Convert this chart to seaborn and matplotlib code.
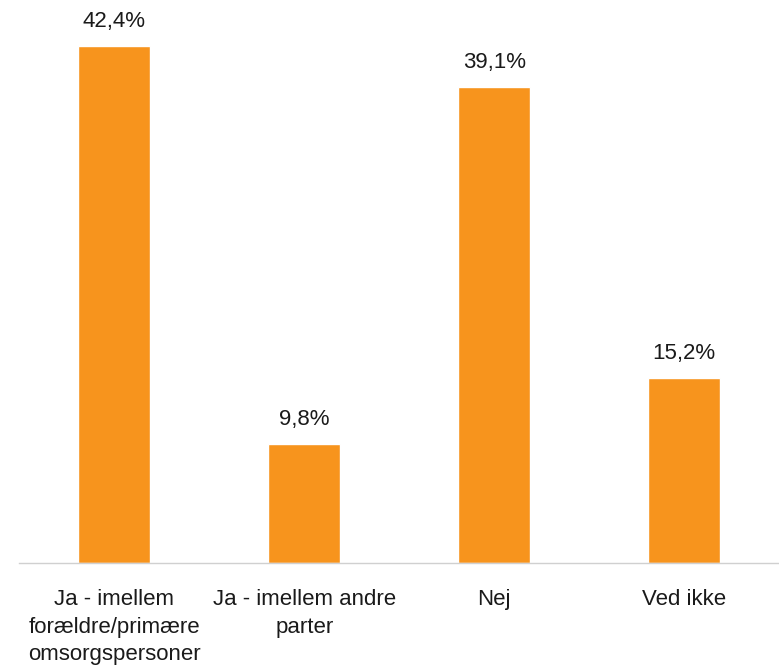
import matplotlib
matplotlib.use("Agg")
import matplotlib.pyplot as plt
import seaborn as sns
import pandas as pd

# Data
categories = ["Ja - imellem\nforældre/primære\nomsorgspersoner",
              "Ja - imellem andre\nparter",
              "Nej",
              "Ved ikke"]
values = [42.4, 9.8, 39.1, 15.2]
value_labels = ["42,4%", "9,8%", "39,1%", "15,2%"]

sns.set_style("white")
plt.rcParams['font.family'] = ['Liberation Sans', 'DejaVu Sans']

df = pd.DataFrame({"kategori": categories, "andel": values})

fig = plt.figure(figsize=(7.79, 6.66), dpi=100)
ax = fig.add_axes([0.025, 103 / 666, 0.975, 563 / 666])

sns.barplot(data=df, x="kategori", y="andel", color="#F7941D",
            saturation=1, width=0.38, ax=ax)

ax.set_ylim(0, 46.2)
ax.set_xlim(-0.5, 3.5)

for i, (v, lab) in enumerate(zip(values, value_labels)):
    ax.text(i, v + 1.15, lab, ha="center", va="bottom", fontsize=16, color="#1a1a1a")

ax.set_xlabel("")
ax.set_ylabel("")
ax.set_yticks([])
ax.tick_params(axis="x", length=0, pad=19, labelsize=16, labelcolor="#1a1a1a")
for lab in ax.get_xticklabels():
    lab.set_linespacing(1.4)

for s in ["top", "right", "left"]:
    ax.spines[s].set_visible(False)
ax.spines["bottom"].set_color("#d0d0d0")
ax.spines["bottom"].set_linewidth(1)

fig.savefig("out.png", dpi=100)
